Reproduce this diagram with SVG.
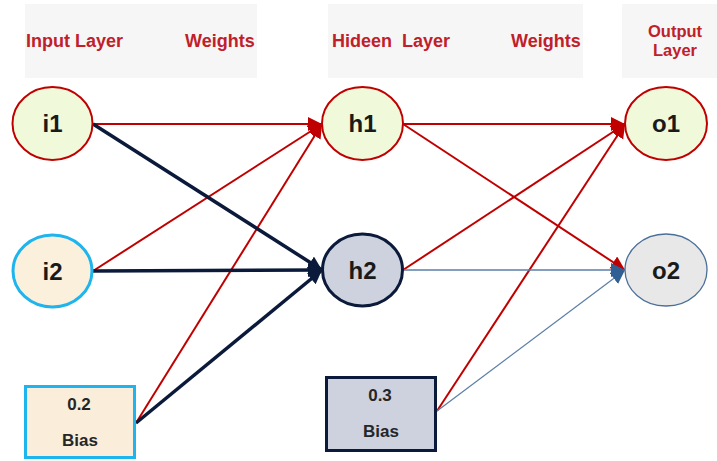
<svg xmlns="http://www.w3.org/2000/svg" width="717" height="461" viewBox="0 0 717 461">
<style>
.hdr{fill:#F6F6F6}
.ht{font-family:"Liberation Sans",Arial,sans-serif;font-weight:bold;font-size:18px;fill:#C0202A}
.ho{font-family:"Liberation Sans",Arial,sans-serif;font-weight:bold;font-size:16.5px;fill:#C0202A;text-anchor:middle}
.nl{font-family:"Liberation Sans",Arial,sans-serif;font-weight:bold;font-size:24px;fill:#1A1A1A;text-anchor:middle}
.bt{font-family:"Liberation Sans",Arial,sans-serif;font-weight:bold;font-size:17px;fill:#262626;text-anchor:middle}
.red{stroke:#C00000;stroke-width:2;fill:none}
.navy{stroke:#0B1A3A;stroke-width:3.5;fill:none}
.blue{stroke:#5B7FA8;stroke-width:1.3;fill:none}
</style>
<defs>
<marker id="mr" markerUnits="userSpaceOnUse" markerWidth="15" markerHeight="15" refX="14" refY="7" orient="auto"><path d="M0,0 L14,7 L0,14 z" fill="#C00000"/></marker>
<marker id="mn" markerUnits="userSpaceOnUse" markerWidth="15" markerHeight="15" refX="14" refY="7" orient="auto"><path d="M0,0 L14,7 L0,14 z" fill="#0B1A3A"/></marker>
<marker id="mb" markerUnits="userSpaceOnUse" markerWidth="15" markerHeight="15" refX="14" refY="7" orient="auto"><path d="M0,0 L14,7 L0,14 z" fill="#2F5F93"/></marker>
</defs>
<g id="headers">
<rect class="hdr" x="25" y="4" width="232" height="74"/>
<rect class="hdr" x="328" y="4" width="255" height="74"/>
<rect class="hdr" x="622" y="4" width="95" height="74"/>
<text class="ht" x="26" y="47">Input Layer</text>
<text class="ht" x="185" y="47">Weights</text>
<text class="ht" x="332" y="47" xml:space="preserve">Hideen  Layer</text>
<text class="ht" x="511" y="47">Weights</text>
<text class="ho" x="675" y="37">Output</text>
<text class="ho" x="675" y="56">Layer</text>
</g>
<g id="connectors">
<line class="red" x1="93" y1="124" x2="322" y2="124" marker-end="url(#mr)"/>
<line class="red" x1="93" y1="271" x2="322" y2="124" marker-end="url(#mr)"/>
<line class="red" x1="136" y1="423" x2="322" y2="124" marker-end="url(#mr)"/>
<line class="navy" x1="93" y1="124" x2="322" y2="270" marker-end="url(#mn)"/>
<line class="navy" x1="93" y1="271" x2="322" y2="270" marker-end="url(#mn)"/>
<line class="navy" x1="136" y1="423" x2="322" y2="270" marker-end="url(#mn)"/>
<line class="red" x1="403" y1="124" x2="625" y2="124" marker-end="url(#mr)"/>
<line class="red" x1="403" y1="124" x2="625" y2="270" marker-end="url(#mr)"/>
<line class="red" x1="403" y1="270" x2="625" y2="124" marker-end="url(#mr)"/>
<line class="red" x1="437" y1="411" x2="625" y2="124" marker-end="url(#mr)"/>
<line class="blue" x1="403" y1="270" x2="625" y2="270" marker-end="url(#mb)"/>
<line class="blue" x1="437" y1="411" x2="625" y2="270" marker-end="url(#mb)"/>
</g>
<g id="i1"><ellipse cx="52.5" cy="123.5" rx="40" ry="36.5" fill="#F0F9DA" stroke="#C00000" stroke-width="2"/><text class="nl" x="52.5" y="132">i1</text></g>
<g id="i2"><ellipse cx="52.5" cy="271" rx="39.5" ry="36" fill="#FAF0DC" stroke="#1EB4EE" stroke-width="3"/><text class="nl" x="52.5" y="279.5">i2</text></g>
<g id="h1"><ellipse cx="362.5" cy="123.5" rx="40.5" ry="36.5" fill="#F0F9DA" stroke="#C00000" stroke-width="2"/><text class="nl" x="362.5" y="132">h1</text></g>
<g id="h2"><ellipse cx="362.5" cy="270" rx="40" ry="36" fill="#CDD2DE" stroke="#0B1A3A" stroke-width="3"/><text class="nl" x="362.5" y="278.5">h2</text></g>
<g id="o1"><ellipse cx="666" cy="123.5" rx="41" ry="36.5" fill="#F0F9DA" stroke="#C00000" stroke-width="2"/><text class="nl" x="666" y="132">o1</text></g>
<g id="o2"><ellipse cx="666" cy="270" rx="41" ry="36" fill="#E8E8E8" stroke="#4A6F9A" stroke-width="1.3"/><text class="nl" x="666" y="278.5">o2</text></g>
<g id="bias1"><rect x="25.5" y="386.5" width="109" height="71" fill="#FAEEDA" stroke="#1EB4EE" stroke-width="3"/><text class="bt" x="79" y="410">0.2</text><text class="bt" x="80" y="446">Bias</text></g>
<g id="bias2"><rect x="326.5" y="377.5" width="109" height="73" fill="#CDD2DE" stroke="#0B1A3A" stroke-width="3"/><text class="bt" x="380" y="401">0.3</text><text class="bt" x="381" y="437">Bias</text></g>
</svg>
